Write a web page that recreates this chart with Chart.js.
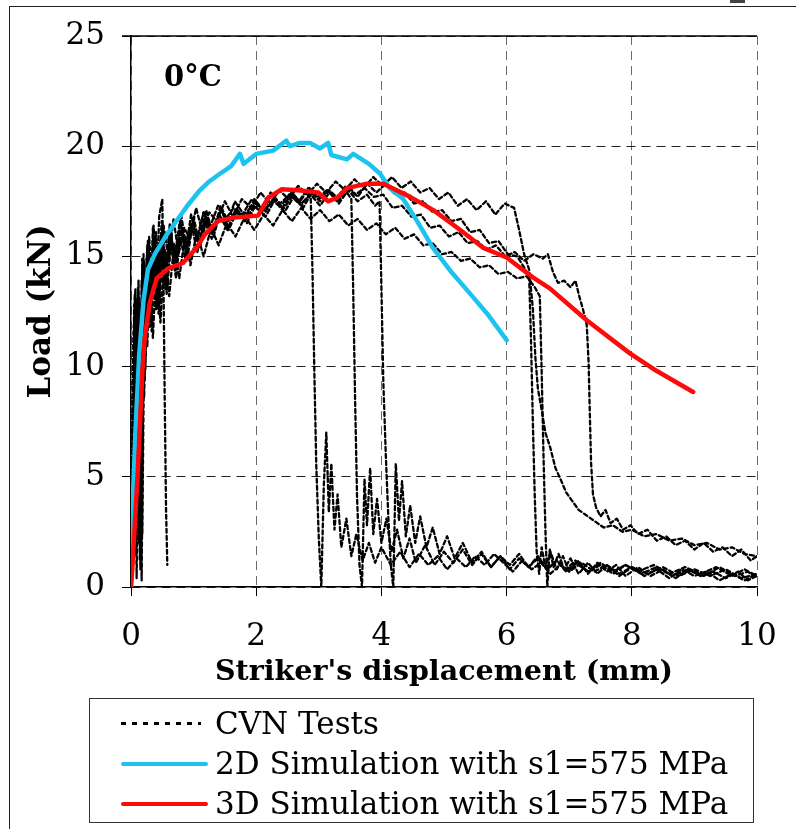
<!DOCTYPE html>
<html>
<head>
<meta charset="utf-8">
<script src="https://cdn.jsdelivr.net/npm/chart.js@4.4.1/dist/chart.umd.min.js"></script>
<style>
  body { margin: 0; background: #fff; }
  #page { position: relative; width: 796px; height: 829px; overflow: hidden; background: #fff; }
  #frame { position: absolute; left: 9px; top: 6px; width: 820px; height: 840px;
           border-top: 1.5px solid #222; border-left: 1.5px solid #222; }
  #scrap { position: absolute; left: 730px; top: 0; width: 15px; height: 3px; background: #444; }
  canvas { position: absolute; left: 0; top: 0; }
  #legend { position: absolute; left: 89px; top: 698px; width: 665px; height: 125px;
            border: 1.5px solid #333; box-sizing: border-box;
            font-family: "DejaVu Serif", serif; font-size: 31px; color: #000; }
  .row { position: absolute; left: 0; height: 40px; width: 100%; }
  .sample { position: absolute; left: 31px; top: 19px; width: 87px; height: 4px; border-radius: 2px; }
  .label { position: absolute; left: 125px; top: 0; line-height: 40px; white-space: nowrap; }
</style>
</head>
<body>
<div id="page">
  <div id="frame"></div>
  <div id="scrap"></div>
  <canvas id="chart" width="796" height="829"></canvas>
  <div id="legend"></div>
</div>
<script>
// axis ranges
const xMin = 0, xMax = 10, xStep = 2;
const yMin = 0, yMax = 25, yStep = 5;
const xTitle = "Striker's displacement (mm)";
const yTitle = "Load (kN)";
const tempLabel = "0°C";

const legendLabels = ["CVN Tests", "2D Simulation with s1=575 MPa", "3D Simulation with s1=575 MPa"];

// 2D simulation (blue)
const sim2D = [[0,0],[0.03,4],[0.07,7],[0.13,10.5],[0.2,13],[0.27,14.4],[0.38,15.1],[0.55,15.9],[0.7,16.5],
  [0.9,17.3],[1.1,18.0],[1.25,18.4],[1.42,18.75],[1.6,19.1],[1.74,19.65],[1.8,19.2],[2.0,19.65],[2.27,19.8],
  [2.48,20.25],[2.54,20.0],[2.7,20.15],[2.86,20.15],[3.02,19.9],[3.15,20.15],[3.2,19.6],[3.45,19.4],[3.55,19.65],
  [3.8,19.2],[3.98,18.75],[4.13,18.1],[4.35,17.6],[4.57,16.6],[4.82,15.4],[5.1,14.35],[5.42,13.3],[5.69,12.4],[6.0,11.2]];

// 3D simulation (red)
const sim3D = [[0,0],[0.02,0.8],[0.11,5.3],[0.18,9.7],[0.22,11.3],[0.3,12.9],[0.41,14.0],[0.59,14.45],[0.83,14.7],
  [1.05,15.4],[1.18,16.0],[1.39,16.6],[1.61,16.75],[2.03,16.85],[2.19,17.65],[2.41,18.05],[2.67,18.0],[2.99,17.9],
  [3.15,17.5],[3.29,17.66],[3.45,18.1],[3.77,18.3],[4.03,18.3],[4.46,17.7],[4.83,17.1],[5.26,16.2],[5.62,15.4],
  [6.0,14.95],[6.42,14.05],[6.69,13.55],[7.28,12.1],[7.97,10.6],[8.4,9.8],[8.98,8.85]];

// CVN test records (black dotted)
const cvnTest1 = [[0,0],[0.03,6.5],[0.05,12.8],[0.08,2.5],[0.11,13.6],[0.14,1.2],[0.18,14.4],[0.22,9.4],[0.26,15.4],
  [0.3,11.8],[0.35,16.3],[0.4,12.6],[0.45,16.8],[0.5,17.6],[0.52,13.5],[0.54,8.2],[0.56,3.5],[0.58,1.0]];

const cvnTest2 = [[0,0],[0.04,10.5],[0.06,13.3],[0.09,0.4],[0.13,12.6],[0.16,3.8],[0.2,15.1],[0.24,11.2],[0.28,14.7],
  [0.33,11.6],[0.38,15.8],[0.44,12.4],[0.5,16.2],[0.57,13.3],[0.64,15.6],[0.72,14.0],[0.8,16.4],[0.9,14.9],[1.0,16.8],
  [1.1,15.4],[1.2,16.6],[1.32,15.9],[1.44,17.2],[1.56,16.2],[1.7,17.1],[1.85,16.5],[2.0,17.4],[2.15,16.8],[2.3,17.6],
  [2.45,17.0],[2.6,17.7],[2.75,17.2],[2.87,17.8],[2.9,14.2],[2.93,9.6],[2.96,5.5],[3.0,2.2],[3.04,0],[3.08,4.6],
  [3.12,7.0],[3.16,3.4],[3.2,5.6],[3.25,2.6],[3.3,4.2],[3.36,1.8],[3.44,3.1],[3.52,1.4],[3.6,2.4],[3.7,1.2],[3.8,2.0],
  [3.9,1.1],[4.0,1.8],[4.15,1.0],[4.3,1.6],[4.45,0.9],[4.6,1.5],[4.75,1.0],[4.9,1.4],[5.05,0.8],[5.2,1.3],[5.35,0.9],
  [5.5,1.4],[5.65,1.0],[5.8,1.5],[5.95,1.1],[6.1,0.7],[6.25,1.2],[6.4,0.8],[6.55,1.1],[6.7,0.6],[6.85,1.0],[7.0,0.7],
  [7.2,1.1],[7.4,0.7],[7.6,1.0],[7.8,0.6],[8.0,0.9],[8.25,0.6],[8.5,0.9],[8.75,0.5],[9.0,0.8],[9.25,0.5],[9.5,0.8],
  [9.75,0.4],[10,0.6]];

const cvnTest3 = [[0,0],[0.02,4],[0.05,11.6],[0.07,5.2],[0.1,13.1],[0.13,2.0],[0.17,13.9],[0.21,8.6],[0.25,14.9],
  [0.3,12.6],[0.36,15.6],[0.42,13.7],[0.48,16.0],[0.55,14.0],[0.62,16.5],[0.7,14.6],[0.78,16.2],[0.87,15.2],[0.96,16.9],
  [1.06,15.7],[1.16,17.0],[1.28,16.1],[1.4,16.9],[1.52,16.4],[1.66,17.5],[1.8,16.9],[1.95,17.3],[2.1,17.0],[2.25,17.8],
  [2.4,17.3],[2.55,17.9],[2.7,17.5],[2.85,18.1],[3.0,17.6],[3.15,18.0],[3.3,17.5],[3.45,17.9],[3.52,17.6],[3.55,13.4],
  [3.58,8.5],[3.61,4.2],[3.65,1.0],[3.69,0],[3.73,4.9],[3.77,2.8],[3.82,5.4],[3.87,2.4],[3.93,4.0],[4.0,2.0],[4.08,3.1],
  [4.16,1.6],[4.25,2.6],[4.35,1.3],[4.45,2.2],[4.55,1.1],[4.7,1.9],[4.85,1.0],[5.0,1.6],[5.15,1.1],[5.3,1.7],[5.45,1.0],
  [5.6,1.5],[5.75,0.9],[5.9,1.4],[6.05,1.0],[6.2,1.5],[6.35,0.9],[6.5,1.3],[6.65,0.8],[6.8,1.2],[6.95,0.7],[7.1,1.1],
  [7.3,0.7],[7.5,1.0],[7.7,0.6],[7.9,1.0],[8.1,0.7],[8.35,1.0],[8.6,0.6],[8.85,0.9],[9.1,0.6],[9.35,0.9],[9.6,0.5],
  [9.8,0.8],[10,0.5]];

const cvnTest4 = [[0,0],[0.03,9.2],[0.06,12.1],[0.08,1.5],[0.12,13.9],[0.15,6.3],[0.19,14.6],[0.23,10.4],[0.27,15.7],
  [0.32,12.9],[0.37,15.2],[0.43,13.1],[0.49,16.6],[0.56,14.3],[0.63,16.1],[0.71,14.8],[0.8,16.9],[0.89,15.3],[0.99,16.5],
  [1.09,15.6],[1.2,17.1],[1.31,16.0],[1.43,17.3],[1.55,16.6],[1.68,17.0],[1.82,16.7],[1.97,17.6],[2.12,17.1],[2.27,17.5],
  [2.42,17.2],[2.57,17.9],[2.72,17.4],[2.87,17.8],[3.02,17.3],[3.17,17.9],[3.32,17.4],[3.47,18.0],[3.62,17.5],[3.77,17.8],
  [3.9,17.3],[3.97,17.5],[4.0,13.6],[4.03,9.4],[4.07,6.0],[4.11,3.2],[4.15,1.0],[4.19,0],[4.23,5.6],[4.28,3.0],[4.33,4.8],
  [4.39,2.3],[4.46,3.7],[4.54,2.0],[4.62,3.2],[4.72,1.8],[4.82,2.7],[4.93,1.5],[5.05,2.3],[5.17,1.3],[5.3,2.0],[5.45,1.1],
  [5.6,1.6],[5.75,0.9],[5.9,1.4],[6.05,0.8],[6.2,1.3],[6.35,0.9],[6.5,1.4],[6.65,0.8],[6.8,1.2],[6.95,0.8],[7.1,1.2],
  [7.3,0.7],[7.5,1.1],[7.7,0.7],[7.9,1.0],[8.15,0.6],[8.4,0.9],[8.65,0.5],[8.9,0.8],[9.15,0.5],[9.4,0.9],[9.65,0.5],
  [9.85,0.7],[10,0.4]];

const cvnTest5 = [[0,0],[0.04,11.0],[0.07,13.5],[0.1,4.0],[0.14,12.9],[0.17,0.3],[0.21,14.8],[0.25,12.2],[0.29,15.9],
  [0.34,13.4],[0.4,16.1],[0.46,12.9],[0.52,16.4],[0.6,14.9],[0.68,16.7],[0.76,15.1],[0.85,16.3],[0.94,15.8],[1.04,17.2],
  [1.14,16.1],[1.25,17.0],[1.37,16.6],[1.5,17.5],[1.63,16.8],[1.77,17.6],[1.92,17.2],[2.07,17.9],[2.22,17.4],[2.37,18.0],
  [2.52,17.6],[2.67,18.2],[2.82,17.8],[2.97,18.3],[3.12,17.9],[3.27,18.4],[3.42,18.0],[3.57,18.5],[3.72,18.1],[3.87,18.6],
  [4.02,18.2],[4.17,18.6],[4.32,18.1],[4.47,18.4],[4.62,17.9],[4.77,18.1],[4.92,17.6],[5.07,17.9],[5.22,17.3],[5.37,17.6],
  [5.52,17.1],[5.67,17.5],[5.82,16.9],[5.97,17.4],[6.12,17.2],[6.2,16.2],[6.28,15.1],[6.36,14.4],[6.42,12.6],[6.46,10.4],
  [6.5,9.0],[6.55,8.2],[6.62,7.0],[6.7,6.3],[6.78,5.4],[6.86,4.9],[6.95,4.3],[7.05,3.9],[7.15,3.5],[7.25,3.3],[7.4,3.0],
  [7.55,2.7],[7.7,2.8],[7.85,2.5],[8.0,2.6],[8.2,2.3],[8.4,2.4],[8.6,2.1],[8.8,2.2],[9.0,1.9],[9.2,2.0],[9.4,1.7],
  [9.6,1.8],[9.8,1.5],[10,1.4]];

const cvnTest6 = [[0,0],[0.03,5.0],[0.06,12.4],[0.09,6.6],[0.12,13.2],[0.15,0.8],[0.19,13.6],[0.23,9.9],[0.27,15.0],
  [0.31,12.1],[0.36,15.6],[0.42,12.8],[0.48,15.4],[0.55,13.5],[0.62,16.0],[0.7,14.4],[0.78,15.8],[0.87,14.9],[0.96,16.5],
  [1.06,15.2],[1.17,16.6],[1.29,15.8],[1.41,16.9],[1.54,16.2],[1.68,17.2],[1.82,16.6],[1.97,17.3],[2.12,16.9],[2.27,17.6],
  [2.42,17.1],[2.57,17.7],[2.72,17.3],[2.87,17.9],[3.02,17.5],[3.17,18.0],[3.32,17.6],[3.47,18.2],[3.62,17.7],[3.77,18.3],
  [3.92,17.9],[4.07,18.3],[4.22,17.8],[4.37,17.9],[4.52,17.4],[4.67,17.5],[4.82,17.0],[4.97,17.1],[5.12,16.6],[5.27,16.7],
  [5.42,16.1],[5.57,16.2],[5.72,15.6],[5.87,15.7],[6.02,15.1],[6.17,15.0],[6.3,14.4],[6.36,14.1],[6.39,11.2],[6.42,7.4],
  [6.45,4.1],[6.48,1.6],[6.52,0.6],[6.56,1.8],[6.62,0.9],[6.7,1.6],[6.8,0.8],[6.9,1.4],[7.0,0.7],[7.15,1.2],[7.3,0.6],
  [7.45,1.1],[7.6,0.7],[7.75,1.0],[7.9,0.5],[8.1,0.9],[8.3,0.5],[8.5,0.8],[8.7,0.4],[8.9,0.8],[9.1,0.5],[9.3,0.7],
  [9.5,0.4],[9.7,0.7],[9.85,0.3],[10,0.5]];

const cvnTest7 = [[0,0],[0.02,3.0],[0.05,10.8],[0.08,12.9],[0.11,3.4],[0.14,12.5],[0.18,2.4],[0.22,13.9],[0.26,10.9],
  [0.3,14.4],[0.35,11.3],[0.41,15.1],[0.47,12.0],[0.54,15.3],[0.61,13.2],[0.69,15.6],[0.77,14.0],[0.86,15.9],[0.95,14.6],
  [1.05,16.1],[1.16,15.0],[1.28,16.3],[1.4,15.5],[1.53,16.5],[1.67,15.9],[1.82,16.8],[1.97,16.2],[2.12,16.9],[2.27,16.4],
  [2.42,17.1],[2.57,16.6],[2.72,17.2],[2.87,16.7],[3.02,17.1],[3.17,16.6],[3.32,16.9],[3.47,16.4],[3.62,16.7],[3.77,16.2],
  [3.92,16.5],[4.07,16.0],[4.22,16.3],[4.37,15.8],[4.52,16.0],[4.67,15.5],[4.82,15.6],[4.97,15.1],[5.12,15.2],[5.27,14.8],
  [5.42,14.9],[5.57,14.5],[5.72,14.6],[5.87,14.2],[6.02,14.3],[6.17,14.0],[6.32,14.1],[6.45,13.6],[6.53,13.2],[6.56,9.8],
  [6.59,5.9],[6.62,2.6],[6.65,0],[6.69,1.7],[6.75,0.9],[6.83,1.5],[6.92,0.8],[7.02,1.3],[7.15,0.6],[7.3,1.1],[7.45,0.6],
  [7.6,1.0],[7.8,0.5],[8.0,0.9],[8.2,0.5],[8.4,0.8],[8.6,0.4],[8.8,0.8],[9.0,0.5],[9.2,0.7],[9.4,0.3],[9.6,0.6],
  [9.8,0.3],[10,0.6]];

const cvnTest8 = [[0,0],[0.03,8.0],[0.05,12.2],[0.08,4.6],[0.11,13.0],[0.14,2.9],[0.18,14.9],[0.22,11.6],[0.26,15.5],
  [0.31,12.4],[0.36,16.4],[0.42,13.9],[0.48,15.9],[0.55,13.7],[0.62,16.3],[0.7,15.0],[0.78,16.6],[0.87,15.6],[0.96,16.4],
  [1.06,15.9],[1.16,17.0],[1.27,16.4],[1.39,17.3],[1.51,16.7],[1.64,17.2],[1.78,16.9],[1.93,17.6],[2.08,17.2],[2.23,17.9],
  [2.38,17.4],[2.53,17.8],[2.68,17.5],[2.83,18.1],[2.98,17.7],[3.13,18.0],[3.28,17.6],[3.43,18.2],[3.58,17.8],[3.73,18.1],
  [3.88,17.7],[4.03,17.8],[4.18,17.2],[4.33,17.3],[4.48,16.8],[4.63,16.9],[4.78,16.3],[4.93,16.4],[5.08,15.9],[5.23,16.1],
  [5.38,15.6],[5.53,15.7],[5.68,15.3],[5.83,15.5],[5.98,15.0],[6.13,15.2],[6.28,14.8],[6.43,15.1],[6.58,14.9],[6.66,15.1],
  [6.74,14.3],[6.82,13.8],[6.92,13.9],[7.02,13.6],[7.1,13.9],[7.16,13.2],[7.22,12.6],[7.28,11.9],[7.31,10.2],[7.33,7.8],
  [7.35,5.6],[7.38,4.2],[7.43,3.6],[7.5,3.2],[7.58,3.5],[7.66,2.9],[7.76,3.1],[7.86,2.6],[7.98,2.8],[8.1,2.4],[8.25,2.6],
  [8.4,2.1],[8.55,2.3],[8.7,1.9],[8.85,2.1],[9.0,1.7],[9.15,2.0],[9.3,1.6],[9.45,1.8],[9.6,1.4],[9.75,1.7],[9.9,1.2],
  [10,1.4]];

const cvnTests = [cvnTest1, cvnTest2, cvnTest3, cvnTest4, cvnTest5, cvnTest6, cvnTest7, cvnTest8];

const blue = "#1cc3ef";
const red = "#ff0a0a";
const serif = "'DejaVu Serif', serif";

const toXY = arr => arr.map(p => ({ x: p[0], y: p[1] }));

const datasets = [
  { label: legendLabels[2], data: toXY(sim3D), borderColor: red, borderWidth: 4.5, order: 0 },
  { label: legendLabels[1], data: toXY(sim2D), borderColor: blue, borderWidth: 4.5, order: 0 }
];
cvnTests.forEach((t, i) => {
  datasets.push({ label: legendLabels[0] + " " + (i + 1), data: toXY(t), borderColor: "#000",
    borderWidth: 2.3, borderDash: [4, 3], order: 1 });
});

// frame top edge + temperature label
const extras = {
  id: "extras",
  afterDatasetsDraw(chart) {
    const { ctx, chartArea: a } = chart;
    ctx.save();
    ctx.setLineDash([]);
    ctx.strokeStyle = "#000";
    ctx.lineWidth = 1.5;
    ctx.beginPath();
    ctx.moveTo(a.left - 9, a.top);
    ctx.lineTo(a.right, a.top);
    ctx.stroke();
    ctx.fillStyle = "#000";
    ctx.font = "bold 29px " + serif;
    ctx.textBaseline = "alphabetic";
    ctx.fillText(tempLabel, a.left + 33, a.top + 50);
    ctx.restore();
  }
};

new Chart(document.getElementById("chart"), {
  type: "line",
  data: { datasets },
  options: {
    responsive: false,
    animation: false,
    devicePixelRatio: 1,
    layout: { padding: { left: 0, right: 39, top: 36, bottom: 139 } },
    elements: {
      point: { radius: 0 },
      line: { tension: 0, borderJoinStyle: "round", borderCapStyle: "round" }
    },
    plugins: { legend: { display: false }, tooltip: { enabled: false } },
    scales: {
      x: {
        type: "linear", min: xMin, max: xMax,
        afterFit: s => { s.height = 103; s.paddingLeft = 0; s.paddingRight = 0; },
        ticks: { stepSize: xStep, color: "#000", padding: 22, font: { family: serif, size: 31 } },
        grid: { color: "#6a6a6a", lineWidth: 1, tickLength: 9, tickColor: "#000", tickBorderDash: [] },
        border: { display: true, color: "#000", width: 1.5, dash: [9, 6] },
        title: { display: true, text: xTitle, color: "#000", padding: 0,
                 font: { family: serif, size: 28.5, weight: "bold" } }
      },
      y: {
        min: yMin, max: yMax,
        afterFit: s => { s.width = 131; },
        ticks: { stepSize: yStep, color: "#000", padding: 17, font: { family: serif, size: 31 } },
        grid: { color: "#222", lineWidth: 1, tickLength: 9, tickColor: "#000", tickBorderDash: [] },
        border: { display: true, color: "#000", width: 1.5, dash: [9, 6] },
        title: { display: true, text: yTitle, color: "#000", padding: { top: 23, bottom: 0 },
                 font: { family: serif, size: 31, weight: "bold" } }
      }
    }
  },
  plugins: [extras]
});

// legend box
const legend = document.getElementById("legend");
const samples = [
  "background: repeating-linear-gradient(90deg, #000 0 5px, transparent 5px 11px); height: 3px; border-radius: 0; width: 80px;",
  "background:" + blue + ";",
  "background:" + red + ";"
];
legendLabels.forEach((txt, i) => {
  const row = document.createElement("div");
  row.className = "row";
  row.style.top = (4 + i * 40) + "px";
  row.innerHTML = '<div class="sample" style="' + samples[i] + '"></div><div class="label"></div>';
  row.querySelector(".label").textContent = txt;
  legend.appendChild(row);
});
</script>
</body>
</html>
